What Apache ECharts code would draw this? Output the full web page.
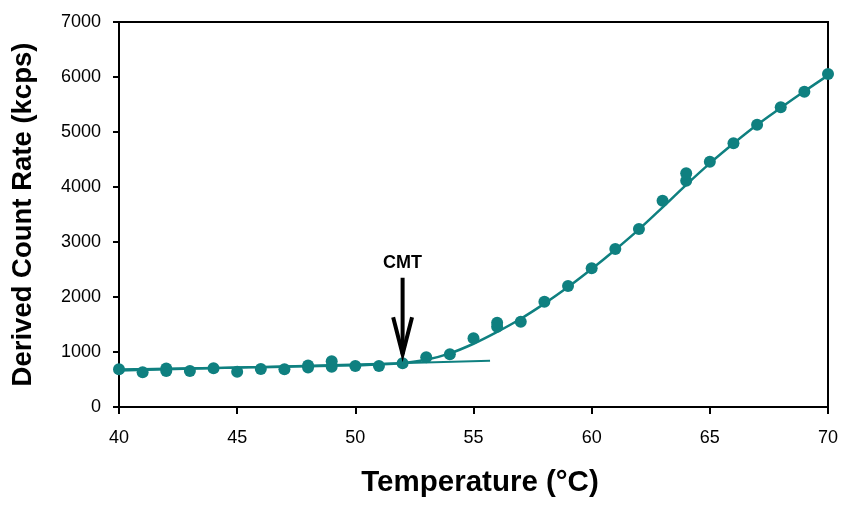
<!DOCTYPE html>
<html>
<head>
<meta charset="utf-8">
<script src="https://cdn.jsdelivr.net/npm/echarts@6/dist/echarts.min.js"></script>
<style>
html,body{margin:0;padding:0;background:#fff;}
#c{width:854px;height:505px;}
</style>
</head>
<body>
<div id="c"></div>
<script>
// measured points (°C, kcps)
var pointTemps = [40,41,42,42,43,44,45,46,47,48,48,49,49,50,51,52,53,54,55,56,56,57,58,59,60,61,62,63,64,64,65,66,67,68,69,70];
var pointValues = [685,630,655,700,654,703,642,690,685,720,755,733,830,745,745,794,903,958,1248,1460,1530,1552,1915,2200,2521,2873,3236,3752,4115,4248,4461,4794,5133,5448,5733,6054];
// fitted curve
var curveTemps = [40,41,42,43,44,45,46,47,48,49,50,51,52,53,54,55,56,57,58,59,60,61,62,63,64,65,66,67,68,69,70];
var curveValues = [680,688,696,703,710,717,724,731,739,748,758,772,800,858,975,1150,1365,1605,1880,2180,2510,2860,3230,3630,4040,4430,4790,5130,5440,5740,6030];
// baseline fit
var baseTemps = [40,55.7];
var baseValues = [660,842];
// CMT arrow
var arrowShaftTemps = [52,52];
var arrowShaftValues = [2350,960];
var arrowHeadTemps = [51.6,52,52.4];
var arrowHeadValues = [1630,960,1630];
var cmtLabel = {temp:52, value:2620, text:'CMT'};
var xTicks = [40,45,50,55,60,65,70];
var yTicks = [0,1000,2000,3000,4000,5000,6000,7000];

function zip(a,b){return a.map(function(v,i){return [v,b[i]];});}
var teal = '#0f8080';
var chart = echarts.init(document.getElementById('c'));
chart.setOption({
  animation:false,
  backgroundColor:'#fff',
  grid:{left:119,right:26,top:22,bottom:98,show:true,borderColor:'#000',borderWidth:2,backgroundColor:'transparent'},
  xAxis:{type:'value',min:40,max:70,interval:5,
    name:'Temperature (°C)',nameLocation:'middle',nameGap:61,
    nameTextStyle:{fontFamily:'Liberation Sans',fontWeight:'bold',fontSize:29.5,color:'#000',padding:[0,0,0,13]},
    axisLine:{show:true,lineStyle:{color:'#000',width:2}},
    axisTick:{show:true,length:7,lineStyle:{color:'#000',width:2}},
    axisLabel:{fontFamily:'Liberation Sans',fontSize:18,color:'#000',margin:22,
      formatter:function(v){return String(v);}},
    splitLine:{show:false}},
  yAxis:{type:'value',min:0,max:7000,interval:1000,
    name:'Derived Count Rate (kcps)',nameLocation:'middle',nameGap:82,
    nameTextStyle:{fontFamily:'Liberation Sans',fontWeight:'bold',fontSize:27.5,color:'#000'},
    axisLine:{show:true,lineStyle:{color:'#000',width:2}},
    axisTick:{show:true,length:6,lineStyle:{color:'#000',width:2}},
    axisLabel:{fontFamily:'Liberation Sans',fontSize:18,color:'#000',margin:18,
      formatter:function(v){return String(v);}},
    splitLine:{show:false}},
  series:[
    {type:'line',data:zip(baseTemps,baseValues),symbol:'none',lineStyle:{color:teal,width:2},z:2},
    {type:'line',data:zip(curveTemps,curveValues),smooth:0.4,symbol:'none',lineStyle:{color:teal,width:2.5},z:3},
    {type:'scatter',data:zip(pointTemps,pointValues),symbol:'circle',symbolSize:12,itemStyle:{color:teal,opacity:1},z:4},
    {type:'line',data:zip(arrowShaftTemps,arrowShaftValues),symbol:'none',lineStyle:{color:'#000',width:4},z:5},
    {type:'line',data:zip(arrowHeadTemps,arrowHeadValues),symbol:'none',lineStyle:{color:'#000',width:4,join:'miter'},z:5},
    {type:'scatter',data:[[cmtLabel.temp,cmtLabel.value]],symbolSize:0,z:6,itemStyle:{opacity:1},
      label:{show:true,position:'inside',formatter:cmtLabel.text,fontFamily:'Liberation Sans',fontWeight:'bold',fontSize:18,color:'#000',textBorderWidth:0}}
  ]
});
</script>
</body>
</html>
